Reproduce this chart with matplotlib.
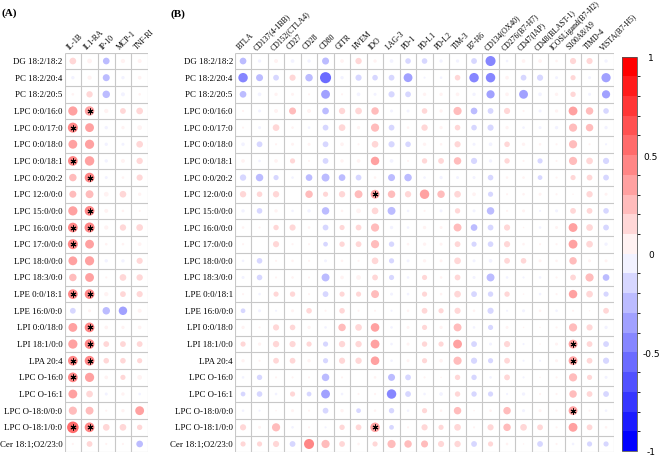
import numpy as np
import matplotlib
matplotlib.use("Agg")
import matplotlib.pyplot as plt
from matplotlib.colors import ListedColormap, BoundaryNorm
import matplotlib.colorbar as mcolorbar

rows = ["DG 18:2/18:2", "PC 18:2/20:4", "PC 18:2/20:5", "LPC 0:0/16:0", "LPC 0:0/17:0",
        "LPC 0:0/18:0", "LPC 0:0/18:1", "LPC 0:0/20:2", "LPC 12:0/0:0", "LPC 15:0/0:0",
        "LPC 16:0/0:0", "LPC 17:0/0:0", "LPC 18:0/0:0", "LPC 18:3/0:0", "LPE 0:0/18:1",
        "LPE 16:0/0:0", "LPI 0:0/18:0", "LPI 18:1/0:0", "LPA 20:4", "LPC O-16:0",
        "LPC O-16:1", "LPC O-18:0/0:0", "LPC O-18:1/0:0", "Cer 18:1;O2/23:0"]

cols_a = ["IL-1B", "IL1-RA", "IP-10", "MCP-1", "TNF-RI"]
cols_b = ["BTLA", "CD137(4-1BB)", "CD152(CTLA4)", "CD27", "CD28", "CD80", "GITR", "HVEM",
          "IDO", "LAG-3", "PD-1", "PD-L1", "PD-L2", "TIM-3", "B7-H6", "CD134(OX40)",
          "CD276(B7-H7)", "CD47(IAP)", "CD48(BLAST-1)", "ICOSLigand(B7-H2)", "S100A8/A9",
          "TIMD-4", "VISTA(B7-H5)"]

corr_a = [
    [0.20, 0.10, -0.20, 0.08, 0.07],
    [-0.05, 0.08, -0.22, -0.05, 0.06],
    [0.03, 0.18, -0.25, -0.07, 0.03],
    [0.38, 0.40, 0.08, 0.15, 0.20],
    [0.45, 0.35, -0.05, 0.05, 0.10],
    [0.35, 0.38, -0.05, -0.04, 0.20],
    [0.42, 0.40, -0.05, 0.07, 0.18],
    [0.25, 0.42, -0.04, 0.03, 0.17],
    [0.22, 0.28, 0.10, 0.20, 0.05],
    [0.38, 0.42, 0.07, 0.03, 0.02],
    [0.42, 0.45, 0.08, 0.18, 0.20],
    [0.45, 0.35, 0.03, 0.03, 0.06],
    [0.35, 0.38, -0.05, -0.05, 0.17],
    [0.25, 0.35, 0.02, 0.20, 0.18],
    [0.42, 0.42, 0.08, 0.15, 0.17],
    [-0.15, 0.04, -0.25, -0.32, 0.07],
    [0.35, 0.42, 0.06, 0.05, 0.06],
    [0.38, 0.42, 0.15, 0.15, 0.15],
    [0.42, 0.42, 0.14, 0.14, 0.12],
    [0.42, 0.38, 0.06, 0.12, 0.10],
    [0.35, 0.20, -0.04, 0.05, -0.03],
    [0.30, 0.28, 0.02, 0.05, 0.35],
    [0.60, 0.42, 0.20, 0.20, 0.13],
    [0.02, 0.15, 0.02, 0.02, -0.20],
]

corr_b = [
    [-0.20, -0.05, 0.07, -0.06, -0.05, -0.22, 0.06, 0.18, 0.05, -0.06, -0.14, -0.14, -0.05, -0.05, -0.15, -0.45, -0.03, 0.06, 0.06, 0.03, 0.17, 0.17, -0.05],
    [-0.40, -0.22, -0.15, 0.17, -0.25, -0.55, -0.05, -0.17, -0.14, -0.15, -0.35, -0.02, -0.03, 0.14, -0.40, -0.40, 0.06, -0.15, -0.17, -0.04, 0.12, -0.04, -0.38],
    [-0.20, -0.06, 0.05, 0.04, 0.02, -0.35, 0.02, -0.06, -0.04, -0.17, -0.15, 0.05, 0.05, 0.06, -0.05, -0.30, 0.06, -0.35, -0.06, 0.05, 0.13, -0.04, -0.30],
    [0.02, -0.04, 0.07, 0.22, 0.07, -0.20, 0.18, 0.20, 0.25, -0.04, -0.04, 0.14, 0.05, 0.30, -0.20, -0.15, 0.17, 0.02, -0.04, 0.05, 0.35, 0.25, -0.14],
    [0.02, -0.04, 0.20, 0.03, -0.03, -0.15, 0.20, 0.05, 0.30, -0.15, 0.03, 0.18, 0.05, 0.14, -0.14, -0.17, 0.05, -0.03, -0.04, -0.05, 0.30, 0.25, -0.05],
    [-0.06, -0.15, 0.02, 0.04, 0.04, -0.15, 0.06, 0.02, 0.20, -0.17, -0.14, 0.05, 0.03, 0.17, -0.04, -0.06, 0.14, 0.05, 0.03, 0.02, 0.30, 0.02, -0.02],
    [0.06, -0.03, 0.06, 0.12, 0.02, -0.15, 0.05, 0.06, 0.32, -0.06, 0.02, 0.13, 0.15, 0.25, -0.17, -0.05, 0.13, 0.02, -0.12, 0.02, 0.30, 0.20, -0.17],
    [-0.18, -0.25, -0.12, -0.03, -0.20, -0.28, -0.20, -0.15, 0.03, -0.22, -0.25, -0.03, -0.05, -0.04, -0.04, -0.14, 0.03, 0.03, -0.10, 0.02, 0.12, 0.15, -0.15],
    [0.18, 0.14, 0.18, 0.00, 0.25, 0.12, 0.18, 0.28, 0.35, 0.25, 0.18, 0.40, 0.25, 0.20, 0.06, -0.12, 0.02, 0.03, 0.04, 0.02, 0.01, 0.18, 0.04],
    [-0.05, -0.14, 0.05, -0.03, -0.05, -0.25, 0.03, 0.10, 0.20, -0.28, -0.03, 0.02, -0.04, 0.13, -0.04, -0.25, 0.02, 0.04, -0.02, -0.04, 0.15, 0.15, -0.14],
    [0.03, 0.02, 0.13, 0.17, 0.03, -0.15, 0.12, 0.15, 0.30, -0.05, -0.03, 0.05, 0.04, 0.28, -0.20, -0.15, 0.17, 0.01, -0.03, 0.04, 0.35, 0.20, -0.15],
    [0.02, 0.00, 0.17, 0.02, 0.02, -0.10, 0.13, 0.15, 0.30, -0.13, 0.03, 0.05, 0.04, 0.15, -0.12, -0.14, 0.17, 0.03, 0.02, 0.02, 0.35, 0.20, -0.05],
    [-0.03, -0.14, 0.02, 0.03, 0.02, -0.04, 0.03, 0.02, 0.20, -0.12, -0.04, 0.05, 0.04, 0.20, -0.04, -0.06, 0.15, 0.14, 0.04, 0.03, 0.25, 0.04, 0.04],
    [-0.04, -0.14, 0.02, 0.03, 0.02, -0.28, 0.06, 0.10, 0.15, -0.12, -0.03, 0.12, 0.03, 0.15, -0.04, -0.28, -0.03, -0.02, -0.03, 0.02, 0.15, 0.30, -0.20],
    [0.02, -0.03, 0.12, 0.13, 0.02, -0.15, 0.12, 0.12, 0.28, -0.04, -0.03, 0.12, 0.03, 0.20, -0.15, -0.13, 0.13, 0.01, -0.03, 0.02, 0.32, 0.20, -0.12],
    [-0.10, -0.04, -0.02, 0.04, 0.14, 0.02, 0.14, 0.02, 0.02, -0.02, 0.03, 0.15, 0.12, 0.17, 0.03, -0.17, -0.02, -0.04, 0.03, -0.03, 0.02, 0.01, 0.15],
    [0.05, 0.02, 0.17, 0.14, 0.05, -0.03, 0.25, 0.20, 0.33, -0.03, 0.04, 0.12, 0.05, 0.28, -0.03, -0.12, 0.04, 0.01, 0.01, 0.02, 0.30, 0.17, -0.05],
    [0.12, 0.05, 0.18, 0.17, 0.12, -0.12, 0.18, 0.18, 0.35, -0.03, 0.04, 0.13, 0.12, 0.35, -0.15, -0.04, 0.17, -0.02, 0.01, 0.04, 0.35, 0.15, -0.15],
    [0.05, 0.02, 0.15, 0.15, 0.05, -0.12, 0.17, 0.18, 0.33, -0.03, 0.04, 0.12, 0.06, 0.30, -0.17, -0.12, 0.15, -0.02, -0.02, 0.04, 0.35, 0.15, -0.17],
    [-0.03, -0.13, 0.02, 0.02, 0.02, -0.25, 0.02, 0.00, 0.03, -0.22, -0.15, 0.02, 0.01, 0.13, -0.13, -0.03, 0.15, -0.02, 0.01, 0.02, 0.30, 0.12, -0.04],
    [-0.10, -0.14, -0.03, 0.12, -0.10, -0.35, -0.03, 0.02, 0.02, -0.40, -0.15, -0.03, -0.06, 0.13, -0.13, -0.12, -0.02, -0.05, 0.02, 0.02, 0.25, 0.15, -0.15],
    [-0.03, -0.02, 0.01, 0.04, 0.02, -0.15, 0.05, -0.10, 0.03, -0.13, -0.03, 0.12, 0.03, 0.25, 0.01, 0.03, 0.25, -0.04, 0.04, 0.02, 0.35, 0.02, -0.03],
    [0.17, 0.04, 0.30, -0.03, 0.02, -0.02, 0.13, 0.15, 0.40, -0.10, 0.02, 0.17, 0.12, 0.20, 0.02, 0.17, 0.25, 0.20, 0.15, 0.02, 0.35, 0.15, 0.03],
    [0.12, 0.12, 0.17, -0.15, 0.45, 0.30, 0.15, 0.03, 0.12, 0.30, 0.25, 0.22, 0.17, 0.18, -0.15, 0.12, 0.03, 0.01, -0.15, 0.02, -0.03, -0.12, -0.12],
]

# significant cells (row, col)
sig_a = [(3, 1), (4, 0), (6, 0), (7, 1), (9, 1), (10, 0), (10, 1), (11, 0), (14, 0), (14, 1),
         (16, 1), (17, 1), (18, 0), (18, 1), (19, 0), (22, 0), (22, 1)]
sig_b = [(8, 8), (22, 8), (17, 20), (18, 20), (21, 20)]

serif = ["Liberation Serif", "DejaVu Serif"]
W, H = 661, 456
CELL = 16.6

# blue - white - red, 20 steps
t = np.linspace(0, 1, 20)
cl = []
for v in t:
    if v < 0.5:
        cl.append((2 * v, 2 * v, 1.0))
    else:
        cl.append((1.0, 2 * (1 - v), 2 * (1 - v)))
cmap = ListedColormap(cl)
bounds = np.linspace(-1, 1, 21)
norm = BoundaryNorm(bounds, cmap.N)

fig = plt.figure(figsize=(W / 100, H / 100), dpi=100)


def px_axes(x0, y0, x1, y1):
    return fig.add_axes([x0 / W, 1 - y1 / H, (x1 - x0) / W, (y1 - y0) / H])


def corr_panel(ax, mat, collabels, sig):
    mat = np.array(mat)
    nr, nc = mat.shape
    ax.set_xlim(0.5, nc + 0.5)
    ax.set_ylim(nr + 0.5, 0.5)
    ax.axis("off")
    ax.hlines(np.arange(nr + 1) + 0.5, 0.5, nc + 0.5, color="#c8c8c8", lw=0.8)
    ax.vlines(np.arange(nc + 1) + 0.5, 0.5, nr + 0.5, color="#c8c8c8", lw=0.8)
    yy, xx = np.mgrid[1:nr + 1, 1:nc + 1]
    vals = mat.ravel()
    # corrplot-style circles: radius = 0.45 * sqrt(|r|) cells
    diam_pt = 2 * 0.45 * np.sqrt(np.abs(vals)) * CELL * 0.72
    ax.scatter(xx.ravel(), yy.ravel(), s=diam_pt ** 2, c=vals, cmap=cmap, norm=norm,
               edgecolors="none", zorder=3)
    for r, c in sig:
        ax.plot(c + 1, r + 1, marker=(6, 2, 0), color="black", ms=4.2, mew=0.7, zorder=4)
    for i, lab in enumerate(rows):
        ax.text(0.38, i + 1, lab, ha="right", va="center", fontsize=6.4, family=serif)
    for j, lab in enumerate(collabels):
        ax.text(j + 0.9, 0.38, lab, ha="left", va="bottom", rotation=45,
                rotation_mode="anchor", fontsize=5.6, family=serif)


axA = px_axes(64.5, 53.7, 148, 453.3)
corr_panel(axA, corr_a, cols_a, sig_a)
axB = px_axes(234.8, 53.7, 614.3, 453.3)
corr_panel(axB, corr_b, cols_b, sig_b)

cax = px_axes(622, 57.5, 637, 452)
cb = mcolorbar.ColorbarBase(cax, cmap=cmap, norm=norm, boundaries=bounds,
                            ticks=[-1, -0.5, 0, 0.5, 1], orientation="vertical")
cb.outline.set_edgecolor("#555555")
cb.outline.set_linewidth(0.6)
cax.yaxis.set_tick_params(length=0, pad=10)
cax.set_yticklabels(["-1", "-0.5", "0", "0.5", "1"])
for lbl in cax.get_yticklabels():
    lbl.set_ha("center")
    lbl.set_fontsize(6.5)

fig.text(2 / W, 1 - 13.5 / H, "(A)", fontsize=8, fontweight="bold", family=serif, va="center")
fig.text(171 / W, 1 - 14.5 / H, "(B)", fontsize=8, fontweight="bold", family=serif, va="center")

fig.savefig("out.png", dpi=100)
